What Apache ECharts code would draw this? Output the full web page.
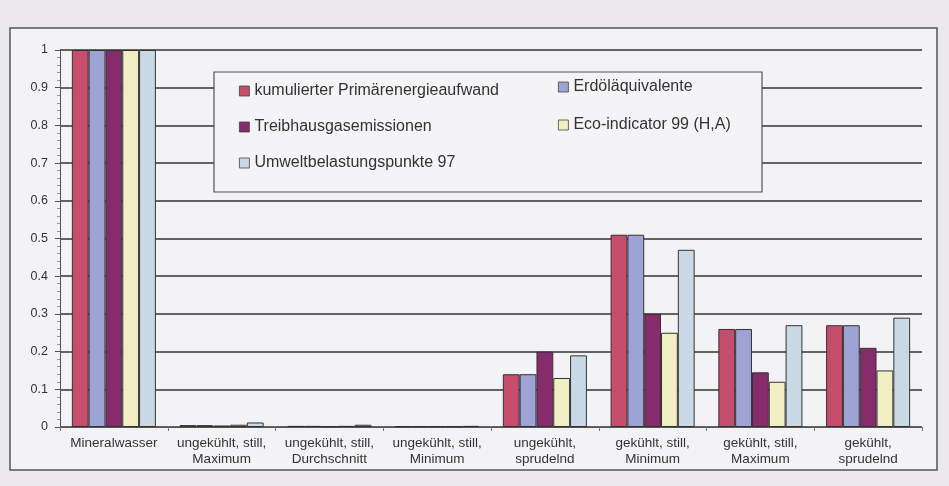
<!DOCTYPE html>
<html>
<head>
<meta charset="utf-8">
<title>Vergleich Umweltindikatoren</title>
<script src="https://cdn.jsdelivr.net/npm/echarts@6/dist/echarts.min.js"></script>
<style>
  html, body { margin: 0; padding: 0; background: #ebe9ed; }
  #chart { width: 949px; height: 486px; }
</style>
</head>
<body>
<div id="chart"></div>
<script>
// categories on the x axis
const categories = [
  "Mineralwasser",
  "ungekühlt, still,\nMaximum",
  "ungekühlt, still,\nDurchschnitt",
  "ungekühlt, still,\nMinimum",
  "ungekühlt,\nsprudelnd",
  "gekühlt, still,\nMinimum",
  "gekühlt, still,\nMaximum",
  "gekühlt,\nsprudelnd",
];

const seriesNames = [
  "kumulierter Primärenergieaufwand",
  "Erdöläquivalente",
  "Treibhausgasemissionen",
  "Eco-indicator 99 (H,A)",
  "Umweltbelastungspunkte 97",
];

// values relative to Mineralwasser (= 1)
const primaerenergie = [1, 0.005, 0.003, 0.002, 0.14, 0.51, 0.26, 0.27];
const erdoel = [1, 0.005, 0.003, 0.002, 0.14, 0.51, 0.26, 0.27];
const treibhaus = [1, 0.004, 0.002, 0.002, 0.2, 0.3, 0.145, 0.21];
const ecoIndicator = [1, 0.006, 0.003, 0.002, 0.13, 0.25, 0.12, 0.15];
const ubp97 = [1, 0.012, 0.006, 0.003, 0.19, 0.47, 0.27, 0.29];

const colors = ["#c64d6c", "#9ea3d6", "#862c6c", "#f3efc4", "#c9dae6"];
const font = "Liberation Sans, Arial, sans-serif";

const chart = echarts.init(document.getElementById("chart"));

function bar(name, data, color) {
  return {
    name: name,
    type: "bar",
    data: data,
    barGap: "0%",
    barCategoryGap: "22%",
    itemStyle: {
      color: color,
      borderColor: "#333",
      borderWidth: 1,
    },
  };
}

function legendCol(names, left, top, gap) {
  return {
    data: names,
    orient: "vertical",
    left: left,
    top: top,
    itemGap: gap,
    itemWidth: 10,
    itemHeight: 10,
    z: 10,
    icon: "rect",
    itemStyle: { borderColor: "#444", borderWidth: 0.8 },
    textStyle: { fontFamily: font, fontSize: 16, color: "#333" },
  };
}

chart.setOption({
  backgroundColor: "#ebe9ed",
  animation: false,
  color: colors,
  graphic: [
    {
      type: "rect",
      z: -10,
      shape: { x: 10, y: 28, width: 927, height: 442 },
      style: { fill: "#f3f2f4", stroke: "#555", lineWidth: 1.5 },
    },
    {
      type: "rect",
      z: 5,
      shape: { x: 214, y: 72, width: 548, height: 120 },
      style: { fill: "#f4f3f5", stroke: "#555", lineWidth: 1.2 },
    },
  ],
  grid: {
    left: 60,
    right: 27,
    top: 50,
    bottom: 59,
  },
  legend: [
    legendCol([seriesNames[0], seriesNames[2], seriesNames[4]], 234, 78, 20),
    legendCol([seriesNames[1], seriesNames[3]], 553, 74, 22),
  ],
  xAxis: {
    type: "category",
    data: categories,
    axisLine: { lineStyle: { color: "#555", width: 1 } },
    axisTick: { show: true, length: 4, lineStyle: { color: "#777" } },
    axisLabel: {
      interval: 0,
      fontFamily: font,
      fontSize: 13.5,
      color: "#333",
      lineHeight: 16,
      margin: 8,
    },
  },
  yAxis: {
    type: "value",
    min: 0,
    max: 1,
    interval: 0.1,
    axisLine: { show: true, lineStyle: { color: "#555", width: 1 } },
    axisTick: { show: true, length: 5, lineStyle: { color: "#555" } },
    minorTick: { show: true, splitNumber: 5, length: 3, lineStyle: { color: "#999" } },
    splitLine: { lineStyle: { color: "#333", width: 1.5 } },
    axisLabel: {
      formatter: (value) => (value === 0 || value === 1 ? String(value) : value.toFixed(1)),
      fontFamily: font,
      fontSize: 12.5,
      color: "#333",
      margin: 12,
    },
  },
  series: [
    bar(seriesNames[0], primaerenergie, colors[0]),
    bar(seriesNames[1], erdoel, colors[1]),
    bar(seriesNames[2], treibhaus, colors[2]),
    bar(seriesNames[3], ecoIndicator, colors[3]),
    bar(seriesNames[4], ubp97, colors[4]),
  ],
});
</script>
</body>
</html>
